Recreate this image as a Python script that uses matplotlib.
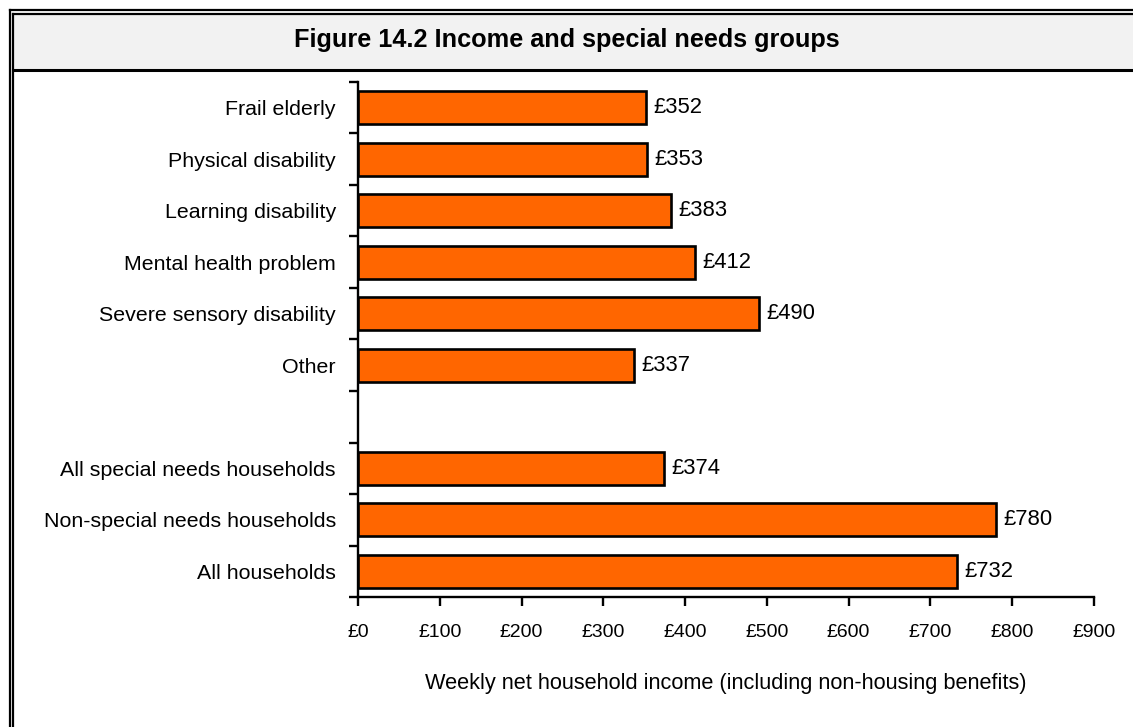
import matplotlib
matplotlib.use("Agg")
import matplotlib.pyplot as plt
from matplotlib.lines import Line2D
from matplotlib.patches import Rectangle

plt.rcParams['font.family'] = ['Liberation Sans', 'DejaVu Sans']

# Weekly net household income by group (GBP)
special_groups = ["Frail elderly", "Physical disability", "Learning disability",
                  "Mental health problem", "Severe sensory disability", "Other"]
special_income = [352, 353, 383, 412, 490, 337]

summary_groups = ["All special needs households", "Non-special needs households",
                  "All households"]
summary_income = [374, 780, 732]

x_ticks = [0, 100, 200, 300, 400, 500, 600, 700, 800, 900]
title = "Figure 14.2 Income and special needs groups"
x_label = "Weekly net household income (including non-housing benefits)"

W, H = 1133, 727
fig = plt.figure(figsize=(W / 100, H / 100), dpi=100)


def fx(px):
    return px / W


def fy(py):
    return 1 - py / H


# Framing: double rule on the left/top, grey title band
fig.patches.append(Rectangle((fx(13), fy(69)), 1, fy(15) - fy(69),
                             transform=fig.transFigure, facecolor="#f2f2f2",
                             edgecolor="none", zorder=0))
for xpos in (9.5, 12.5):
    top = 10 if xpos == 9.5 else 14
    fig.lines.append(Line2D([fx(xpos), fx(xpos)], [fy(top), 0],
                            transform=fig.transFigure, color="black", lw=1.6))
for ypos, x0 in ((10, 9.5), (14, 12.5), (70, 12.5)):
    fig.lines.append(Line2D([fx(x0), 1], [fy(ypos), fy(ypos)],
                            transform=fig.transFigure, color="black",
                            lw=1.6 if ypos != 70 else 2.2))

fig.text(0.5, fy(47), title, ha="center", va="baseline", fontsize=18.2,
         fontweight="bold")

# Bar chart area
ax = fig.add_axes([fx(358), fy(597.3), fx(1094) - fx(358), fy(81.7) - fy(597.3)])

labels = special_groups + summary_groups
values = special_income + summary_income
positions = list(range(len(special_groups))) + \
    [len(special_groups) + 1 + i for i in range(len(summary_groups))]
n_slots = len(special_groups) + 1 + len(summary_groups)

ax.barh(positions, values, height=0.64, color="#ff6600", edgecolor="black",
        linewidth=1.9, zorder=3)
for p, v in zip(positions, values):
    ax.text(v + 9, p, f"£{v}", va="center", ha="left", fontsize=15.8)

ax.set_ylim(n_slots - 0.5, -0.5)
ax.set_xlim(0, 900)

ax.set_yticks(positions)
ax.set_yticklabels(labels, fontsize=15.4)
ax.set_yticks([i - 0.5 for i in range(n_slots + 1)], minor=True)
ax.tick_params(axis="y", which="major", length=0, pad=16)
ax.tick_params(axis="y", which="minor", length=6.5, width=1.7, direction="out")

ax.set_xticks(x_ticks)
ax.set_xticklabels([f"£{t}" for t in x_ticks], fontsize=14)
ax.tick_params(axis="x", length=6.5, width=1.7, direction="out", pad=12.5)
ax.set_xlabel(x_label, fontsize=15.7, labelpad=23)

for side in ("top", "right"):
    ax.spines[side].set_visible(False)
for side in ("left", "bottom"):
    ax.spines[side].set_linewidth(1.7)

fig.savefig("out.png", dpi=100)
